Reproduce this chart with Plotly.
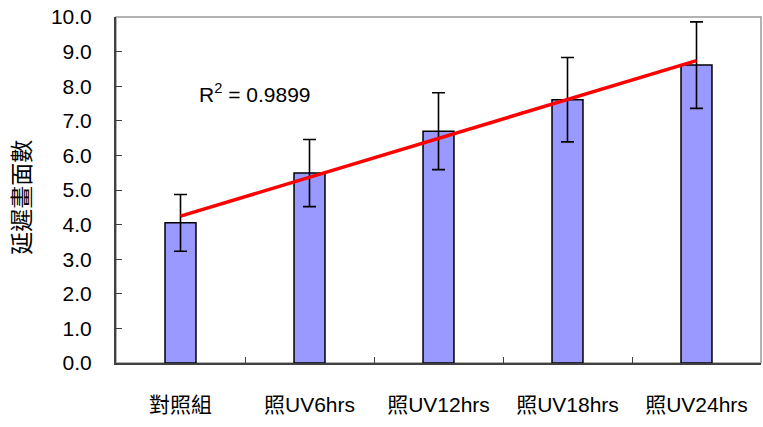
import numpy as np
import plotly.graph_objects as go

# Data
categories = ["對照組", "照UV6hrs", "照UV12hrs", "照UV18hrs", "照UV24hrs"]
values = [4.05, 5.49, 6.70, 7.61, 8.61]
errors = [0.82, 0.97, 1.11, 1.22, 1.25]
y_ticks = [0, 1, 2, 3, 4, 5, 6, 7, 8, 9, 10]
r2_label = "R<sup>2</sup> = 0.9899"
y_title = "延遲畫面數"

# Linear trend through the bar means
xi = np.arange(1, len(values) + 1)
slope, intercept = np.polyfit(xi, values, 1)
trend = slope * xi + intercept

LATIN = "Liberation Sans, Arial, sans-serif"
MIXED = "Liberation Sans, Noto Sans CJK TC, sans-serif"

fig = go.Figure()
fig.add_trace(go.Bar(
    x=categories, y=values,
    marker=dict(color="#9999FF", line=dict(color="black", width=1.5)),
    error_y=dict(type="data", array=errors, visible=True,
                 color="black", thickness=1.6, width=6.5),
    width=0.24,
    showlegend=False,
))
fig.add_trace(go.Scatter(
    x=categories, y=trend, mode="lines",
    line=dict(color="#FF0000", width=3.5),
    showlegend=False,
))

fig.update_layout(
    width=763, height=427,
    margin=dict(l=116, r=2, t=17, b=64),
    paper_bgcolor="white", plot_bgcolor="white",
    font=dict(family=LATIN, color="black"),
    xaxis=dict(
        type="category",
        tickson="boundaries",
        ticks="inside", ticklen=6, tickcolor="#404040", tickwidth=1,
        showline=True, linecolor="#404040", linewidth=2,
        showgrid=False,
        tickfont=dict(family=MIXED, size=21, color="black"),
        ticklabelstandoff=22,
    ),
    yaxis=dict(
        range=[0, 10],
        tickvals=y_ticks,
        tickformat=".1f",
        ticks="inside", ticklen=6, tickcolor="#404040", tickwidth=1,
        showline=True, linecolor="#404040", linewidth=2,
        showgrid=False, zeroline=False,
        tickfont=dict(family=LATIN, size=21, color="black"),
        ticklabelstandoff=18,
    ),
    shapes=[dict(type="rect", xref="paper", yref="paper",
                 x0=0, y0=0, x1=1, y1=1,
                 line=dict(color="#999999", width=1.5), layer="below")],
    annotations=[
        dict(text=r2_label, xref="x", yref="y", x=0.13, y=7.8,
             xanchor="left", yanchor="middle", showarrow=False,
             font=dict(family=LATIN, size=21, color="black")),
        dict(text=y_title, xref="paper", yref="paper", x=-0.148, y=0.479,
             xanchor="center", yanchor="middle", textangle=-90,
             showarrow=False,
             font=dict(family="Noto Sans CJK TC", size=23, color="black")),
    ],
)

fig.write_html("out.html")
